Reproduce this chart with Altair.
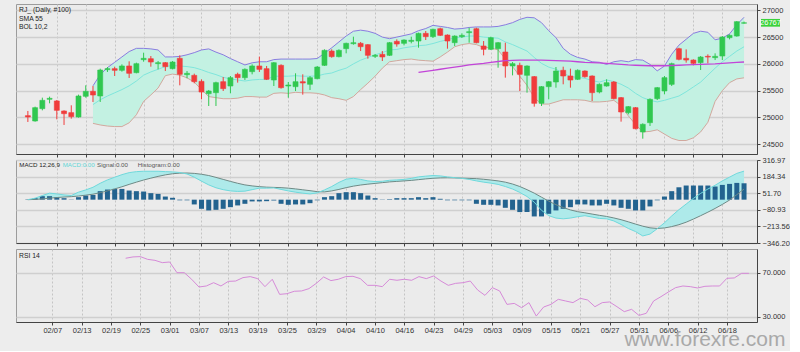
import altair as alt
import pandas as pd
import numpy as np

# ---------------- data ----------------
opens = [25034, 24934, 25164, 25339, 25308, 25121, 25090, 25009, 25395, 25488,
         25401, 25892, 25911, 25880, 25961, 25836, 26079, 26097, 26004, 26023,
         25911, 26104, 25799, 25786, 25674, 25444, 25463, 25668, 25587, 25805,
         25743, 25855, 25961, 25911, 25699, 25973, 25587, 25575, 25668, 25619,
         25724, 25973, 26240, 26135, 26284, 26377, 26384, 26359, 26141, 26178,
         26160, 26421, 26384, 26421, 26427, 26570, 26508, 26657, 26539, 26396,
         26508, 26583, 26657, 26334, 26272, 26284, 26222, 25961, 25973, 25786,
         25762, 25264, 25575, 25662, 25880, 25774, 25712, 25867, 25774, 25475,
         25587, 25662, 25370, 25090, 25183, 24729, 24903, 25351, 25494, 25618,
         26284, 26104, 26072, 26023, 26141, 26116, 26147, 26489, 26520, 26760]
highs = [25121, 25202, 25370, 25389, 25326, 25133, 25227, 25426, 25600, 25587,
         25911, 25942, 25948, 25992, 26048, 26023, 26209, 26147, 26054, 26035,
         26054, 26160, 25867, 25818, 25712, 25513, 25668, 25755, 25774, 25836,
         25917, 25992, 26135, 25961, 26035, 25992, 25662, 25824, 25805, 25774,
         25961, 26272, 26272, 26272, 26396, 26508, 26409, 26371, 26185, 26240,
         26409, 26458, 26458, 26508, 26583, 26614, 26657, 26676, 26551, 26533,
         26570, 26676, 26676, 26427, 26508, 26409, 26396, 26035, 26023, 25973,
         25774, 25587, 25681, 25942, 25948, 25911, 25898, 25880, 25786, 25637,
         25712, 25681, 25382, 25214, 25195, 24891, 25357, 25569, 25774, 26023,
         26302, 26271, 26085, 26147, 26178, 26197, 26520, 26551, 26800, 26790]
lows = [24916, 24922, 25133, 25264, 24965, 24860, 24978, 24997, 25370, 25289,
        25289, 25849, 25774, 25855, 25737, 25824, 26041, 25948, 25898, 25867,
        25898, 25600, 25731, 25637, 25339, 25214, 25214, 25494, 25451, 25650,
        25699, 25805, 25849, 25699, 25587, 25538, 25370, 25494, 25426, 25513,
        25712, 25961, 26116, 26122, 26197, 26359, 26240, 26097, 26110, 26054,
        26147, 26321, 26346, 26384, 26303, 26446, 26483, 26520, 26284, 26334,
        26483, 26396, 26384, 26160, 26259, 25929, 25743, 25786, 25494, 25463,
        25202, 25214, 25339, 25556, 25619, 25556, 25699, 25743, 25307, 25450,
        25575, 25338, 24922, 25058, 24779, 24604, 24841, 25326, 25432, 25587,
        26066, 26023, 25973, 25886, 26010, 26072, 26072, 26458, 26508, 26750]
closes = [25009, 25183, 25320, 25357, 25133, 25071, 25015, 25401, 25488, 25419,
          25886, 25911, 25880, 25961, 25824, 26004, 26104, 26035, 26023, 25948,
          26035, 25805, 25824, 25668, 25475, 25494, 25650, 25538, 25743, 25743,
          25898, 25961, 25898, 25712, 26023, 25556, 25606, 25668, 25643, 25743,
          25942, 26253, 26135, 26253, 26384, 26396, 26321, 26160, 26160, 26129,
          26396, 26371, 26446, 26440, 26570, 26508, 26645, 26533, 26427, 26520,
          26533, 26601, 26396, 26272, 26489, 26396, 25961, 26004, 25805, 25961,
          25264, 25575, 25668, 25867, 25774, 25699, 25880, 25761, 25463, 25618,
          25649, 25351, 25102, 25202, 24791, 24872, 25338, 25556, 25743, 26004,
          26085, 26072, 26010, 26128, 26128, 26141, 26502, 26533, 26788, 26767]

# Bollinger (10,2) from bar 9 on
bol_upper = [25590, 25800, 25930, 26030, 26130, 26230, 26290, 26290, 26280, 26260,
             26130, 26130, 26140, 26170, 26210, 26260, 26280, 26220, 26170, 26100,
             26040, 25980, 26020, 26040, 26040, 26080, 26090, 26090, 26090, 26090,
             26090, 26100, 26200, 26300, 26410, 26520, 26610, 26630, 26610, 26570,
             26500, 26470, 26500, 26530, 26560, 26620, 26660, 26720, 26700, 26680,
             26650, 26660, 26680, 26690, 26690, 26690, 26700, 26730, 26770, 26830,
             26870, 26860, 26770, 26620, 26490, 26290, 26180, 26120, 26090, 26040,
             26030, 25990, 26040, 26060, 26040, 26080, 26070, 25990, 25870, 25960,
             26180, 26350, 26460, 26570, 26610, 26590, 26450, 26480, 26560, 26730,
             26870]
bol_mid = [25240, 25330, 25400, 25460, 25520, 25590, 25680, 25790, 25850, 25900,
           25950, 25970, 25960, 25950, 25930, 25890, 25840, 25800, 25750, 25720,
           25700, 25680, 25700, 25710, 25710, 25770, 25770, 25770, 25780, 25770,
           25770, 25775, 25810, 25830, 25880, 25920, 26000, 26070, 26120, 26170,
           26210, 26260, 26270, 26300, 26320, 26340, 26350, 26380, 26420, 26450,
           26490, 26500, 26520, 26520, 26500, 26490, 26480, 26410, 26360, 26300,
           26240, 26120, 26010, 25940, 25900, 25830, 25760, 25750, 25730, 25690,
           25660, 25700, 25670, 25620, 25550, 25450, 25370, 25320, 25290, 25320,
           25360, 25400, 25480, 25570, 25660, 25790, 25920, 26040, 26140, 26240,
           26320]
bol_lower = [24890, 24860, 24840, 24830, 24830, 24900, 25050, 25300, 25420, 25550,
             25780, 25810, 25790, 25740, 25660, 25520, 25390, 25370, 25350, 25350,
             25360, 25390, 25390, 25380, 25380, 25450, 25460, 25450, 25470, 25460,
             25460, 25450, 25420, 25370, 25350, 25320, 25390, 25520, 25640, 25770,
             25920, 26040, 26060, 26080, 26090, 26070, 26060, 26050, 26130, 26220,
             26320, 26360, 26380, 26360, 26310, 26300, 26260, 26090, 25950, 25770,
             25600, 25370, 25250, 25250, 25290, 25330, 25330, 25330, 25320, 25290,
             25290, 25300, 25320, 25220, 25030, 24870, 24730, 24740, 24770, 24690,
             24610, 24570, 24570, 24620, 24730, 24910, 25300, 25500, 25650, 25720,
             25740]
# SMA 55 from bar 54 on
sma55 = [25840, 25860, 25880, 25900, 25920, 25940, 25960, 25980, 25995, 26010,
         26030, 26045, 26060, 26065, 26070, 26070, 26070, 26070, 26065, 26060,
         26055, 26050, 26040, 26030, 26025, 26020, 26010, 26000, 25990, 25980,
         25975, 25970, 25965, 25965, 25965, 25970, 25975, 25980, 25985, 25990,
         25995, 26000, 26010, 26020, 26030, 26035]

macd_line = [0, 12, 33, 52, 46, 38, 33, 60, 78, 99,
             131, 158, 179, 200, 216, 224, 227, 227, 227, 224,
             222, 217, 205, 180, 148, 118, 95, 80, 70, 66,
             68, 80, 92, 92, 94, 82, 70, 60, 52, 46,
             54, 78, 105, 138, 164, 171, 162, 150, 145, 147,
             155, 158, 162, 170, 182, 188, 193, 190, 182, 176,
             170, 162, 150, 140, 132, 122, 105, 85, 58, 25,
             -20, -85, -128, -147, -153, -147, -136, -128, -139, -150,
             -153, -170, -198, -230, -255, -290, -275, -232, -185, -130,
             -80, -35, 10, 50, 85, 115, 150, 180, 210, 228]
signal_line = [0, 2, 6, 12, 17, 21, 24, 29, 36, 44,
               56, 70, 86, 103, 122, 140, 157, 172, 186, 198,
               207, 212, 213, 210, 203, 193, 178, 162, 146, 131,
               118, 110, 104, 100, 98, 96, 92, 86, 79, 72,
               64, 62, 70, 82, 96, 108, 117, 124, 130, 136,
               142, 146, 150, 154, 160, 166, 171, 174, 175, 174,
               172, 170, 168, 163, 157, 150, 140, 125, 105, 80,
               52, 20, -12, -40, -63, -82, -96, -105, -115, -125,
               -134, -146, -160, -177, -195, -212, -225, -230, -226, -215,
               -200, -180, -155, -128, -100, -70, -38, -3, 40, 85]
histogram = [3, 12, 28, 28, 20, 12, -2, 20, 33, 38,
             68, 81, 86, 86, 73, 68, 65, 52, 46, 25,
             15, -5, -5, -38, -73, -86, -81, -73, -60, -46,
             -33, -14, -14, -12, -7, -33, -41, -38, -38, -28,
             -5, 20, 28, 52, 60, 60, 52, 33, 12, -2,
             4, 12, 12, 12, 20, 12, 20, 7, -5, -5,
             -5, -5, -33, -41, -41, -46, -65, -81, -99, -99,
             -134, -134, -113, -86, -73, -60, -38, -38, -46, -46,
             -33, -46, -65, -73, -86, -86, -54, -5, 25, 68,
             99, 113, 113, 113, 113, 105, 118, 126, 134, 131]

# RSI 14 from bar 14 on
rsi14 = [83.1, 84.3, 84.6, 82.1, 81.2, 79.1, 79.7, 70.0, 70.0, 64.0,
         57.0, 57.9, 60.9, 57.9, 62.1, 62.4, 65.5, 66.4, 64.6, 57.3,
         64.0, 50.3, 50.9, 53.1, 53.4, 55.5, 60.3, 66.1, 62.8, 64.0,
         66.4, 66.7, 64.6, 58.5, 58.5, 57.3, 64.0, 63.1, 64.0, 63.1,
         66.4, 64.6, 67.0, 62.4, 58.5, 60.3, 60.9, 62.4, 54.3, 49.4,
         56.4, 53.4, 41.2, 42.1, 38.2, 42.8, 30.6, 38.8, 41.2, 45.8,
         44.3, 42.8, 46.7, 45.2, 39.1, 42.8, 43.4, 39.1, 34.6, 36.7,
         31.2, 33.1, 44.3, 48.2, 52.4, 56.4, 57.9, 57.3, 56.1, 57.6,
         57.9, 57.9, 64.9, 65.2, 69.4, 69.4]

tick_labels = ["02/07", "02/13", "02/19", "02/25", "03/01", "03/07", "03/13", "03/19",
               "03/25", "03/29", "04/04", "04/10", "04/16", "04/23", "04/29", "05/03",
               "05/09", "05/15", "05/21", "05/27", "05/31", "06/06", "06/12", "06/18"]
tick_pos = [4 + 4 * k for k in range(len(tick_labels))]

price_ticks = [24500, 25000, 25500, 26000, 26500, 27000]
macd_ticks = [316.97, 184.34, 51.70, -80.93, -213.56, -346.20]
rsi_ticks = [30, 70]

# ---------------- frames ----------------
n = len(closes)
candles = pd.DataFrame({"i": range(n), "open": opens, "high": highs, "low": lows, "close": closes})
candles["dir"] = np.where(candles["close"] >= candles["open"], "up", "down")
bol = pd.DataFrame({"i": range(9, 9 + len(bol_mid)), "upper": bol_upper, "mid": bol_mid, "lower": bol_lower})
sma = pd.DataFrame({"i": range(54, 54 + len(sma55)), "sma": sma55})
macd = pd.DataFrame({"i": range(n), "macd": macd_line, "signal": signal_line, "hist": histogram})
rsi = pd.DataFrame({"i": range(14, 14 + len(rsi14)), "rsi": rsi14})
last = pd.DataFrame({"v": [closes[-1]], "t": [str(closes[-1])]})

# ---------------- scales / axes ----------------
W = 741
H_MAIN, H_MACD, H_RSI = 150, 83, 73
FONT = "Liberation Sans"

xs = alt.Scale(domain=[-0.95, 100.1], nice=False, zero=False)
label_expr = "[" + ",".join("'%s'" % t for t in tick_labels) + "][round((datum.value - 4) / 4)]"

def x_axis(labels):
    kw = dict(values=tick_pos, title=None, grid=True, gridColor="#c4c4c4", gridDash=[2, 2],
              gridWidth=1, ticks=True, tickSize=3, tickColor="#444", domainColor="#444",
              labels=labels)
    if labels:
        kw.update(labelExpr=label_expr, labelFont=FONT, labelFontSize=7.5, labelColor="#333",
                  labelPadding=1, labelOverlap=False, labelFlush=False)
    return alt.Axis(**kw)

def y_axis(values, fmt):
    return alt.Axis(values=values, format=fmt, orient="right", title=None, grid=True,
                    gridColor="#cfcfcf", gridWidth=1.3, ticks=True, tickSize=3, tickColor="#444",
                    domainColor="#444", labelFont=FONT, labelFontSize=7.5, labelColor="#333",
                    labelPadding=2, labelOverlap=False, labelFlush=False, labelBound=False)

def X(labels=False):
    return alt.X("i:Q", scale=xs, axis=x_axis(labels))

ys_main = alt.Scale(domain=[24318, 27118], nice=False, zero=False)
ax_main = y_axis(price_ticks, "d")
def YM(f):
    return alt.Y(f, scale=ys_main, axis=ax_main)

ys_macd = alt.Scale(domain=[-346.2, 316.97], nice=False, zero=False)
ax_macd = y_axis(macd_ticks, ".2f")
def YD(f):
    return alt.Y(f, scale=ys_macd, axis=ax_macd)

ys_rsi = alt.Scale(domain=[25.2, 91.5], nice=False, zero=False)
ax_rsi = y_axis(rsi_ticks, ".3f")
def YR(f):
    return alt.Y(f, scale=ys_rsi, axis=ax_rsi)

col = alt.Color("dir:N", scale=alt.Scale(domain=["up", "down"], range=["#30c850", "#f03c3c"]), legend=None)
stk = alt.Stroke("dir:N", scale=alt.Scale(domain=["up", "down"], range=["#30c850", "#f03c3c"]), legend=None)

def label(text, x, y, color="#222", size=6.8):
    return alt.Chart(pd.DataFrame({"t": [text]})).mark_text(
        align="left", baseline="middle", font=FONT, fontSize=size, color=color
    ).encode(text="t:N", x=alt.value(x), y=alt.value(y))

# ---------------- main panel ----------------
band = alt.Chart(bol).mark_area(color="#c3f1e2", opacity=1).encode(x=X(), y=YM("lower:Q"), y2="upper:Q")
up_line = alt.Chart(bol).mark_line(color="#8a7ce0", strokeWidth=1).encode(x=X(), y=YM("upper:Q"))
lo_line = alt.Chart(bol).mark_line(color="#d2a89e", strokeWidth=1).encode(x=X(), y=YM("lower:Q"))
mid_line = alt.Chart(bol).mark_line(color="#7fe6dc", strokeWidth=1).encode(x=X(), y=YM("mid:Q"))
sma_line = alt.Chart(sma).mark_line(color="#c244d8", strokeWidth=1.3).encode(x=X(), y=YM("sma:Q"))
wicks = alt.Chart(candles).mark_rule(strokeWidth=1).encode(x=X(), y=YM("low:Q"), y2="high:Q", color=col)
bodies = alt.Chart(candles).mark_bar(size=5, strokeWidth=0.6).encode(
    x=X(), y=YM("open:Q"), y2="close:Q", color=col, stroke=stk)
tag_box = alt.Chart(last).transform_calculate(lo="datum.v - 72", hi="datum.v + 72").mark_rect(
    color="#3ad23a").encode(x=alt.value(745), x2=alt.value(764), y=YM("lo:Q"), y2="hi:Q")
tag_txt = alt.Chart(last).mark_text(color="white", font=FONT, fontSize=7.5, align="center",
                                    baseline="middle").encode(x=alt.value(754.5), y=YM("v:Q"), text="t:N")

main = alt.layer(
    band, up_line, lo_line, mid_line, wicks, bodies, sma_line, tag_box, tag_txt,
    label("RJ_  (Daily, #100)", 3, 5.7),
    label("SMA 55", 3, 15.3),
    label("BOL 10,2", 3, 22.7),
).properties(width=W, height=H_MAIN)

# ---------------- MACD panel ----------------
fill = alt.Chart(macd).mark_area(color="#aeeaea", opacity=1).encode(x=X(), y=YD("macd:Q"), y2="signal:Q")
bars = alt.Chart(macd).mark_bar(size=5, color="#23638f").encode(x=X(), y=YD("hist:Q"), y2=alt.datum(0))
sig = alt.Chart(macd).mark_line(color="#6f8a86", strokeWidth=1).encode(x=X(), y=YD("signal:Q"))
mac = alt.Chart(macd).mark_line(color="#6fd9dc", strokeWidth=1).encode(x=X(), y=YD("macd:Q"))
macd_panel = alt.layer(
    fill, bars, sig, mac,
    label("MACD 12,26,9", 3.3, 5, size=6.2),
    label("MACD:0.00", 46.7, 5, color="#5fd6d6", size=6.2),
    label("Signal:0.00", 81, 5, color="#555", size=6.2),
    label("Histogram:0.00", 121.7, 5, color="#555", size=6.2),
).properties(width=W, height=H_MACD)

# ---------------- RSI panel ----------------
rsi_line = alt.Chart(rsi).mark_line(color="#d68ad8", strokeWidth=1).encode(x=X(True), y=YR("rsi:Q"))
watermark = alt.Chart(pd.DataFrame({"t": ["www.forexre.com"]})).mark_text(
    font=FONT, fontSize=21, color="#a9a9a9", align="center", baseline="middle"
).encode(text="t:N", x=alt.value(689), y=alt.value(91))
rsi_panel = alt.layer(rsi_line, label("RSI 14", 3, 7), watermark).properties(width=W, height=H_RSI)

chart = alt.vconcat(
    main, macd_panel, rsi_panel,
    spacing=6,
    bounds="flush",
).properties(
    padding={"left": 15, "top": 3, "right": 0, "bottom": 0},
    background="#ededed",
).configure_view(
    fill="#ebebeb", stroke="#9c9c9c", strokeWidth=1
)

chart.save("out.html", embed_options={"renderer": "svg", "actions": False})
